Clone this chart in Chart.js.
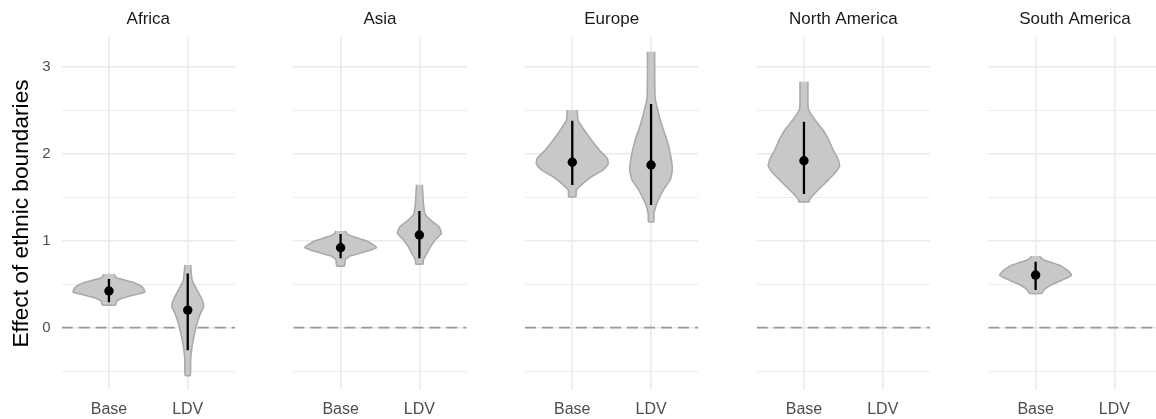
<!DOCTYPE html>
<html>
<head>
<meta charset="utf-8">
<script src="https://cdn.jsdelivr.net/npm/chart.js@4/dist/chart.umd.min.js"></script>
<style>
  html, body { margin: 0; padding: 0; background: #ffffff; overflow: hidden; }
  #wrap { position: relative; width: 1156px; height: 419px; overflow: hidden; }
  #wrap canvas { position: absolute; top: 0; }
</style>
</head>
<body>
<div id="wrap"></div>
<script>
// Regions (facets) and model specifications (x categories)
const regions = ['Africa', 'Asia', 'Europe', 'North America', 'South America'];
const models = ['Base', 'LDV'];

// Point estimates and interval bounds per region
const baseEstimate = [0.42, 0.917, 1.899, 1.917, 0.603];
const baseLower    = [0.29, 0.795, 1.638, 1.534, 0.431];
const baseUpper    = [0.557, 1.075, 2.377, 2.366, 0.757];
const ldvEstimate  = [0.20, 1.063, 1.868, null, null];
const ldvLower     = [-0.26, 0.795, 1.408, null, null];
const ldvUpper     = [0.62, 1.339, 2.569, null, null];

// Posterior density profiles: [value, relative density] from top to bottom
const baseDensity = [
  [[0.615,0.14],[0.59,0.17],[0.565,0.25],[0.545,0.44],[0.52,0.67],[0.47,0.92],[0.44,0.97],[0.41,1.0],[0.39,0.86],[0.37,0.67],[0.335,0.35],[0.30,0.21],[0.26,0.19]],
  [[1.11,0.13],[1.07,0.19],[1.04,0.39],[0.99,0.75],[0.955,0.89],[0.92,1.0],[0.895,0.86],[0.87,0.67],[0.82,0.25],[0.78,0.13],[0.71,0.11]],
  [[2.5,0.14],[2.385,0.16],[2.27,0.33],[2.155,0.53],[2.04,0.75],[1.945,0.97],[1.88,1.0],[1.81,0.85],[1.733,0.53],[1.657,0.30],[1.58,0.11],[1.505,0.1]],
  [[2.825,0.11],[2.577,0.11],[2.5,0.13],[2.385,0.31],[2.27,0.53],[2.155,0.69],[2.04,0.81],[1.945,0.94],[1.856,0.99],[1.77,0.85],[1.657,0.58],[1.54,0.30],[1.466,0.14],[1.446,0.15]],
  [[0.822,0.11],[0.80,0.15],[0.776,0.23],[0.718,0.65],[0.66,0.88],[0.603,1.0],[0.546,0.74],[0.489,0.42],[0.431,0.23],[0.393,0.17]]
];
const ldvDensity = [
  [[0.72,0.08],[0.62,0.1],[0.55,0.12],[0.49,0.18],[0.43,0.26],[0.32,0.40],[0.24,0.44],[0.16,0.35],[0.05,0.26],[-0.07,0.19],[-0.22,0.12],[-0.37,0.08],[-0.55,0.07]],
  [[1.64,0.08],[1.50,0.10],[1.43,0.11],[1.31,0.15],[1.235,0.31],[1.16,0.54],[1.083,0.61],[1.006,0.44],[0.93,0.31],[0.853,0.21],[0.776,0.11],[0.73,0.1]],
  [[3.17,0.1],[2.9,0.1],[2.65,0.11],[2.54,0.16],[2.35,0.28],[2.155,0.44],[1.963,0.55],[1.81,0.59],[1.695,0.53],[1.58,0.34],[1.428,0.16],[1.31,0.08],[1.216,0.07]],
  null,
  null
];

// Y axis grid values and the reference line
const yGrid = [-0.5, 0, 0.5, 1, 1.5, 2, 2.5, 3];
const referenceValue = 0;

// Layout of the facet panels
const Y_MIN = -0.718, Y_MAX = 3.339;
const X_MIN = 0.4, X_MAX = 2.6;
const FIRST_LEFT = 61.67, PANEL_W = 173.33, PANEL_STEP = 231.67;
const CANVAS_H = 419;
const HALF_WIDTH = 0.457;

const FONT = "'Liberation Sans', Arial, Helvetica, sans-serif";
Chart.defaults.font.family = FONT;

const GRID = '#ebebeb';
const VIOLIN_FILL = '#c8c8c8';
const VIOLIN_EDGE = '#aaaaaa';

function violinOutline(center, profile) {
  const right = profile.map(([v, d]) => ({ x: center + d * HALF_WIDTH, y: v }));
  const left = profile.slice().reverse().map(([v, d]) => ({ x: center - d * HALF_WIDTH, y: v }));
  return right.concat(left);
}

function panelDatasets(i) {
  const sets = [{
    data: [{ x: X_MIN, y: referenceValue }, { x: X_MAX, y: referenceValue }],
    showLine: true, borderColor: '#999999', borderWidth: 1.8, borderDash: [11, 6],
    pointRadius: 0, order: 4
  }];
  const groups = [
    [baseDensity, baseEstimate, baseLower, baseUpper],
    [ldvDensity, ldvEstimate, ldvLower, ldvUpper]
  ];
  groups.forEach(([dens, est, lo, hi], m) => {
    if (!dens[i]) return;
    const cx = m + 1;
    sets.push({
      data: violinOutline(cx, dens[i]),
      showLine: true, fill: 'shape', tension: 0.15,
      backgroundColor: VIOLIN_FILL, borderColor: VIOLIN_EDGE, borderWidth: 1.6,
      borderJoinStyle: 'round',
      pointRadius: 0, order: 3
    });
    sets.push({
      data: [{ x: cx, y: lo[i] }, { x: cx, y: hi[i] }],
      showLine: true, borderColor: '#000000', borderWidth: 2.3,
      pointRadius: 0, order: 2
    });
    sets.push({
      data: [{ x: cx, y: est[i] }],
      pointRadius: 4.7, pointBackgroundColor: '#000000', pointBorderWidth: 0,
      order: 1
    });
  });
  return sets;
}

const wrap = document.getElementById('wrap');

regions.forEach((region, i) => {
  const L = FIRST_LEFT + i * PANEL_STEP;
  const R = L + PANEL_W;
  const first = i === 0;
  const canvasLeft = first ? 0 : Math.floor(L);
  const canvasW = Math.ceil(R) - canvasLeft;
  const padL = first ? 0 : L - canvasLeft;
  const padR = canvasLeft + canvasW - R;

  const canvas = document.createElement('canvas');
  canvas.width = canvasW;
  canvas.height = CANVAS_H;
  canvas.style.left = canvasLeft + 'px';
  canvas.style.width = canvasW + 'px';
  canvas.style.height = CANVAS_H + 'px';
  wrap.appendChild(canvas);

  new Chart(canvas, {
    type: 'scatter',
    data: { datasets: panelDatasets(i) },
    options: {
      responsive: false,
      animation: false,
      devicePixelRatio: 1,
      events: [],
      layout: { autoPadding: false, padding: { left: padL, right: padR, top: 0, bottom: 0 } },
      plugins: {
        legend: { display: false },
        tooltip: { enabled: false },
        title: {
          display: true, text: region, fullSize: false,
          color: '#1a1a1a', font: { size: 17, weight: 'normal', lineHeight: 1.2 },
          padding: { top: 9.5, bottom: 7.1 }
        }
      },
      scales: {
        x: {
          type: 'linear', min: X_MIN, max: X_MAX,
          afterBuildTicks: s => { s.ticks = models.map((_, k) => ({ value: k + 1 })); },
          afterFit: s => {
            s.height = CANVAS_H - 390;
            s.paddingLeft = 0; s.paddingRight = 0; s.paddingTop = 0; s.paddingBottom = 0;
          },
          ticks: {
            callback: v => models[Math.round(v) - 1],
            color: '#4d4d4d', font: { size: 16 }, padding: 10,
            autoSkip: false, maxRotation: 0
          },
          grid: { color: GRID, lineWidth: 1.6, drawTicks: false },
          border: { display: false }
        },
        y: {
          type: 'linear', min: Y_MIN, max: Y_MAX,
          afterBuildTicks: s => { s.ticks = yGrid.map(v => ({ value: v })); },
          afterFit: s => {
            s.width = first ? FIRST_LEFT : 0;
            s.paddingLeft = 0; s.paddingRight = 0; s.paddingTop = 0; s.paddingBottom = 0;
          },
          ticks: {
            display: first,
            callback: v => Number.isInteger(v) ? String(v) : '',
            color: '#4d4d4d', font: { size: 15 }, padding: 11, autoSkip: false
          },
          grid: {
            color: GRID, drawTicks: false,
            lineWidth: c => Number.isInteger(c.tick.value) ? 1.6 : 0.9
          },
          border: { display: false },
          title: {
            display: first, text: 'Effect of ethnic boundaries',
            color: '#000000', font: { size: 22.7 }, padding: { top: 8.6, bottom: 0 }
          }
        }
      }
    }
  });
});
</script>
</body>
</html>
